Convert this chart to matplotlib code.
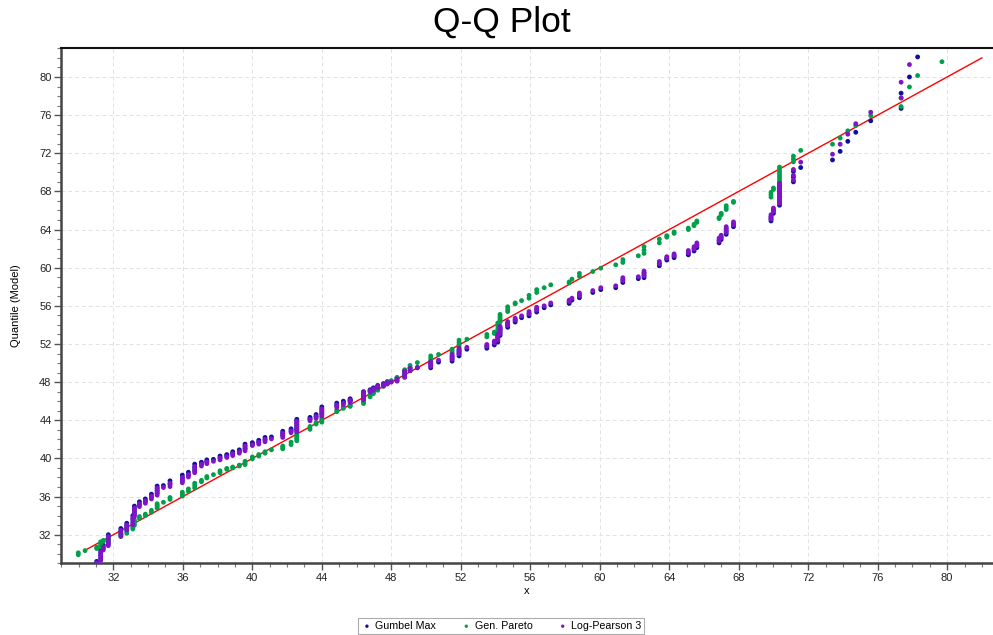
import numpy as np
import matplotlib.pyplot as plt
from matplotlib.ticker import MultipleLocator

plt.rcParams['font.family'] = ['Liberation Sans', 'DejaVu Sans']

# observed values (x) - tied observations share one x
stack_x = [29.98, 30.37, 31.04, 31.27, 31.42, 31.71, 32.43, 32.77, 33.12, 33.21,
           33.5, 33.84, 34.19, 34.52, 34.88, 35.26, 35.97, 36.32, 36.68, 37.07,
           37.38, 37.76, 38.14, 38.53, 38.87, 39.25, 39.58, 40.0, 40.37, 40.73,
           41.1, 41.75, 42.23, 42.56, 43.32, 43.67, 44.0, 44.86, 45.24, 45.63,
           46.4, 46.78, 46.97, 47.22, 47.55, 47.77, 48.0, 48.33, 48.77, 49.08,
           49.5, 50.27, 50.72, 51.5, 51.9, 52.35, 53.5, 53.93, 54.13, 54.26,
           54.7, 55.13, 55.5, 55.93, 56.37, 56.8, 57.18, 58.24, 58.4, 58.83,
           59.6, 60.06, 60.92, 61.33, 62.22, 62.55, 63.43, 63.86, 64.28, 65.1,
           65.43, 65.59, 66.87, 66.99, 67.28, 67.7, 69.86, 70.0, 70.35, 71.15,
           71.57, 73.4, 73.84, 74.28, 74.74, 75.6, 77.35, 77.83, 78.3, 79.7]

q_pareto = [[29.9, 30.1], [30.33], [30.55, 30.7], [30.75, 30.95, 31.1, 31.25], [31.3, 31.4],
            [31.45, 31.55, 31.65, 31.75], [31.8, 31.95, 32.1], [32.15, 32.35, 32.55], [32.6, 32.75, 32.9],
            [33.0, 33.2, 33.4, 33.55], [33.7, 33.9], [34.0, 34.15], [34.35, 34.55],
            [34.8, 34.95, 35.1, 35.25], [35.4], [35.7, 35.9], [36.05, 36.25, 36.45], [36.55, 36.8],
            [36.9, 37.15, 37.4], [37.55, 37.7], [37.95, 38.1], [38.3], [38.5, 38.7], [38.85, 38.95],
            [39.0, 39.1], [39.2, 39.3], [39.35, 39.5, 39.7], [39.95, 40.15], [40.25, 40.4], [40.55, 40.7],
            [40.9], [41.0, 41.15, 41.3], [41.45, 41.7], [41.85, 42.0, 42.15, 42.3, 42.45, 42.6, 42.75],
            [43.05, 43.35], [43.6, 43.75], [43.8, 43.95, 44.1, 44.3], [44.9, 45.05], [45.25, 45.4],
            [45.45, 45.55, 45.65], [45.75, 45.9, 46.05, 46.2], [46.45, 46.6], [46.8, 46.95], [47.15, 47.3],
            [47.55, 47.65], [47.85, 47.95], [48.15], [48.4, 48.5], [48.7, 48.9, 49.1, 49.3], [49.5, 49.75],
            [50.05], [50.25, 50.5, 50.75], [50.9], [51.05, 51.25, 51.45], [51.65, 51.9, 52.15, 52.4],
            [52.5], [52.75, 53.0], [53.1, 53.25], [53.35, 53.6, 53.9, 54.2], [54.3, 54.5, 54.7, 54.9, 55.1],
            [55.4, 55.65, 55.9], [56.2, 56.3], [56.55], [56.8, 57.1], [57.4, 57.7], [57.9], [58.2],
            [58.4, 58.5], [58.8], [59.1, 59.4], [59.6], [59.95], [60.3], [60.55, 60.85], [61.25],
            [61.5, 61.85, 62.2], [62.6, 63.0], [63.2, 63.35], [63.6, 63.75], [64.0, 64.15], [64.4, 64.55],
            [64.75, 64.9], [65.15, 65.25], [65.55, 65.7], [66.1, 66.3, 66.5], [66.85, 66.95],
            [67.4, 67.65, 67.9], [68.2, 68.35], [68.9, 69.1, 69.35, 69.6, 69.85, 70.1, 70.35, 70.55],
            [71.1, 71.4, 71.7], [72.3], [72.95], [73.6], [74.35], [74.9], [75.95], [76.9, 77.8],
            [78.95], [80.15], [81.6]]

q_lp3 = [[26.5, 27.0], [27.8], [28.7, 29.05], [29.3, 29.6, 29.9, 30.2], [30.4, 30.7],
         [30.85, 31.2, 31.5, 31.8], [31.85, 32.15, 32.45], [32.5, 32.75, 33.0], [33.05, 33.45, 33.8],
         [33.9, 34.2, 34.5, 34.8], [34.95, 35.25], [35.3, 35.55], [35.75, 36.05],
         [36.15, 36.4, 36.65, 36.9], [36.95], [37.05, 37.4], [37.45, 37.75, 38.0], [38.05, 38.3],
         [38.5, 38.85, 39.15], [39.2, 39.4], [39.45, 39.65], [39.7], [39.85, 40.05], [40.1, 40.2],
         [40.3, 40.5], [40.55, 40.7], [40.8, 41.05, 41.3], [41.35, 41.45], [41.5, 41.7], [41.75, 42.0],
         [42.05], [42.2, 42.45, 42.65], [42.7, 42.9], [42.8, 42.95, 43.15, 43.35, 43.55, 43.75, 43.9],
         [43.95, 44.1], [44.2, 44.4], [44.45, 44.7, 44.95, 45.2], [45.35, 45.6], [45.65, 45.8],
         [45.85, 46.0, 46.1], [46.15, 46.4, 46.65, 46.9], [46.95, 47.1], [47.15, 47.3], [47.4, 47.55],
         [47.6, 47.75], [47.8, 47.95], [48.0], [48.1, 48.35], [48.5, 48.75, 48.95, 49.15], [49.2, 49.45],
         [49.55], [49.65, 49.9, 50.15], [50.3], [50.4, 50.65, 50.9], [50.95, 51.15, 51.35, 51.55],
         [51.65], [51.75, 51.95], [52.1, 52.3], [52.4, 52.6, 52.8, 53.0], [53.1, 53.3, 53.5, 53.7, 53.85],
         [53.95, 54.15, 54.35], [54.5, 54.7], [54.95], [55.15, 55.4], [55.55, 55.85], [56.0], [56.3],
         [56.45, 56.6], [56.8], [57.05, 57.35], [57.6], [57.9], [58.1], [58.65, 58.95], [59.05],
         [59.15, 59.4, 59.65], [60.4, 60.65], [61.0, 61.15], [61.25, 61.45], [61.55, 61.8], [61.95, 62.2],
         [62.3, 62.6], [62.8, 63.1], [63.15, 63.4], [63.7, 64.0, 64.3], [64.5, 64.8],
         [65.1, 65.3, 65.55], [65.9, 66.25], [66.75, 67.05, 67.35, 67.65, 67.95, 68.25, 68.55, 68.85],
         [69.2, 69.7, 70.3], [71.07], [71.9], [72.95], [74.0], [75.1], [76.3], [77.8, 79.45],
         [81.3], [84.5], [88.0]]

q_gumbel = [[26.8, 27.3], [28.0], [28.9, 29.2], [29.5, 29.8, 30.1, 30.4], [30.6, 30.9],
            [31.05, 31.4, 31.7, 32.0], [32.05, 32.35, 32.65], [32.7, 32.95, 33.2], [33.25, 33.65, 34.0],
            [34.1, 34.4, 34.7, 35.0], [35.15, 35.45], [35.5, 35.75], [35.95, 36.25],
            [36.35, 36.6, 36.85, 37.1], [37.15], [37.3, 37.65], [37.65, 37.95, 38.25], [38.25, 38.55],
            [38.7, 39.05, 39.4], [39.4, 39.6], [39.65, 39.85], [39.9], [40.05, 40.25], [40.3, 40.4],
            [40.5, 40.7], [40.75, 40.9], [41.0, 41.25, 41.5], [41.55, 41.65], [41.7, 41.9], [41.95, 42.2],
            [42.25], [42.4, 42.65, 42.85], [42.9, 43.1], [43.0, 43.15, 43.35, 43.55, 43.75, 43.95, 44.1],
            [44.15, 44.3], [44.4, 44.6], [44.65, 44.9, 45.15, 45.4], [45.55, 45.8], [45.85, 46.0],
            [46.05, 46.15, 46.25], [46.3, 46.55, 46.8, 47.0], [47.05, 47.2], [47.25, 47.4], [47.5, 47.65],
            [47.7, 47.85], [47.9, 48.05], [48.1], [48.15, 48.4], [48.55, 48.8, 49.0, 49.2], [49.2, 49.45],
            [49.5], [49.5, 49.75, 50.0], [50.1], [50.2, 50.45, 50.7], [50.75, 50.95, 51.15, 51.35],
            [51.45], [51.55, 51.75], [51.9, 52.1], [52.2, 52.4, 52.6, 52.8], [52.9, 53.1, 53.3, 53.5, 53.65],
            [53.75, 53.95, 54.15], [54.3, 54.5], [54.75], [54.95, 55.2], [55.35, 55.65], [55.8], [56.1],
            [56.25, 56.4], [56.6], [56.85, 57.15], [57.4], [57.7], [57.9], [58.45, 58.75], [58.85],
            [58.95, 59.2, 59.45], [60.2, 60.45], [60.8, 60.95], [61.05, 61.25], [61.35, 61.55], [61.75, 62.0],
            [62.1, 62.4], [62.6, 62.9], [62.95, 63.2], [63.5, 63.8, 64.1], [64.3, 64.6],
            [64.9, 65.1, 65.35], [65.7, 66.05], [66.55, 66.85, 67.15, 67.45, 67.75, 68.05, 68.35, 68.65],
            [69.0, 69.5, 70.1], [70.5], [71.3], [72.2], [73.25], [74.2], [75.4], [76.7, 78.3],
            [80.0], [82.1], [85.5]]

line_ends = [30.3, 82.0]

counts = [len(s) for s in q_pareto]
x = np.repeat(stack_x, counts)
y_g = np.concatenate(q_gumbel)
y_p = np.concatenate(q_pareto)
y_l = np.concatenate(q_lp3)

fig = plt.figure(figsize=(9.93, 6.35), dpi=100)
ax = fig.add_axes([0.0617, 0.1129, 0.9383, 0.812])

ax.plot(line_ends, line_ends, color='#ff0000', lw=1.0, zorder=2)
h1 = ax.scatter(x, y_g, s=12, color='#10109a', edgecolors='none', label='Gumbel Max', zorder=3)
h2 = ax.scatter(x, y_p, s=12, color='#00a04a', edgecolors='none', label='Gen. Pareto', zorder=3)
h3 = ax.scatter(x, y_l, s=12, color='#8014c8', edgecolors='none', label='Log-Pearson 3', zorder=3)

ax.set_xlim(29, 82.64)
ax.set_ylim(29, 83.07)
ax.xaxis.set_major_locator(MultipleLocator(4))
ax.xaxis.set_minor_locator(MultipleLocator(1))
ax.yaxis.set_major_locator(MultipleLocator(4))
ax.yaxis.set_minor_locator(MultipleLocator(1))
ax.tick_params(which='major', length=5, width=1, color='#555555', labelsize=8, labelcolor='#222222', pad=2)
ax.tick_params(which='minor', length=3, width=0.8, color='#777777')
ax.grid(which='major', color='#e2e2e2', lw=0.7, ls=(0, (4, 3)))
ax.set_axisbelow(True)

ax.spines['right'].set_visible(False)
ax.spines['top'].set_color('#111111')
ax.spines['top'].set_linewidth(1.5)
for side in ['left', 'bottom']:
    ax.spines[side].set_color('#444444')
    ax.spines[side].set_linewidth(1.8)

ax.set_xlabel('x', fontsize=8, labelpad=2)
ax.set_ylabel('Quantile (Model)', fontsize=8, labelpad=13)
fig.text(0.505, 1 - 22 / 635, 'Q-Q Plot', ha='center', va='center', fontsize=25.5)

leg = fig.legend(handles=[h1, h2, h3], loc='center', bbox_to_anchor=(501 / 993, 1 - 626 / 635),
                 ncol=3, fontsize=7.7, frameon=True, fancybox=False, edgecolor='#999999',
                 markerscale=0.7, handletextpad=0.2, columnspacing=2.2, borderpad=0.25,
                 handlelength=1.2)
leg.get_frame().set_linewidth(0.8)

fig.savefig('out.png', dpi=100)
